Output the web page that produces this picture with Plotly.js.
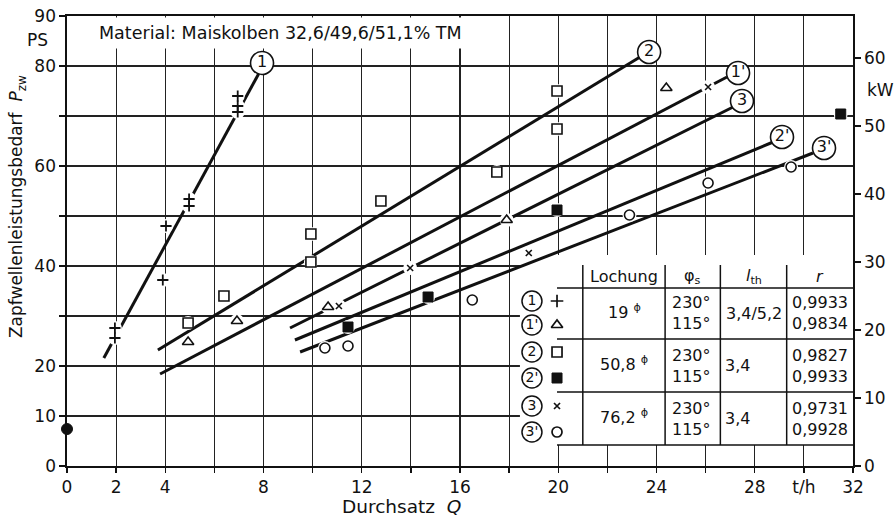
<!DOCTYPE html>
<html>
<head>
<meta charset="utf-8">
<script src="https://cdn.plot.ly/plotly-3.0.1.min.js"></script>
<style>
  html, body { margin: 0; padding: 0; background: #fff; }
  #chart { width: 895px; height: 524px; }
</style>
</head>
<body>
<div id="chart"></div>
<script>
// Measured points, Durchsatz Q [t/h] vs. Zapfwellenleistung [PS]
const plusX = [1.95, 1.95, 3.9, 4.03, 4.97, 4.97, 6.95, 6.95, 6.95];
const plusY = [25.6, 27.6, 37.2, 48.0, 52.0, 53.4, 70.8, 72.0, 74.0];
const triX = [4.93, 6.92, 10.63, 17.9, 24.4];
const triY = [24.8, 29.0, 31.8, 49.2, 75.6];
const sqX = [4.93, 6.39, 9.93, 9.93, 12.78, 17.5, 19.95, 19.95];
const sqY = [28.6, 34.0, 40.8, 46.4, 53.0, 58.8, 67.4, 75.0];
const sqFillX = [11.44, 14.7, 19.95, 31.5];
const sqFillY = [27.8, 33.8, 51.2, 70.4];
const crossX = [11.07, 13.97, 18.8, 26.1];
const crossY = [32.0, 39.6, 42.6, 75.8];
const circX = [10.5, 11.44, 16.5, 22.9, 26.1, 29.48];
const circY = [23.6, 24.0, 33.2, 50.2, 56.6, 59.8];
const idleX = [0];
const idleY = [7.4];

// Regression lines (start / end)
const line1X = [1.5, 7.82],    line1Y = [21.6, 78.6];
const line1pX = [3.79, 26.87], line1pY = [18.4, 77.8];
const line2X = [3.7, 23.33],   line2Y = [23.2, 81.8];
const line2pX = [9.28, 28.75], line2pY = [25.2, 64.8];
const line3X = [9.08, 27.12],  line3Y = [27.6, 71.8];
const line3pX = [9.49, 30.37], line3pY = [22.8, 62.6];

// Curve labels
const curveNames = ['1', '2', "1'", '3', "2'", "3'"];

// Axis ticks
const xTickVals = [0, 2, 4, 6, 8, 10, 12, 14, 16, 18, 20, 22, 24, 26, 28, 30, 32];
const xTickText = ['0', '2', '4', '', '8', '', '12', '', '16', '', '20', '', '24', '', '28', 't/h', '32'];
const yTickVals = [0, 10, 20, 30, 40, 50, 60, 70, 80, 90];
const yTickText = ['0', '10', '20', '', '40', '', '60', '', '80', '90'];
const kwTickVals = [0, 10, 20, 30, 40, 50, 60];
const PS_PER_KW = 1.36;

// Table contents
const tabHeader = ['Lochung', 'φ<sub>s</sub>', '<i>l</i><sub>th</sub>', '<i>r</i>'];
const tabLochung = ['19 <sup>ϕ</sup>', '50,8 <sup>ϕ</sup>', '76,2 <sup>ϕ</sup>'];
const tabPhi = ['230°<br>115°', '230°<br>115°', '230°<br>115°'];
const tabLth = ['3,4/5,2', '3,4', '3,4'];
const tabR = ['0,9933<br>0,9834', '0,9827<br>0,9933', '0,9731<br>0,9928'];
const tabKeys = ['1', "1'", '2', "2'", '3', "3'"];

const FONT = 'DejaVu Sans, Arial, sans-serif';
const BLACK = '#111';

// placement of curve label circles (data coords)
const labelPos = {
  '1': [7.94, 80.6], '2': [23.7, 82.8], "1'": [27.32, 78.6],
  '3': [27.48, 73.0], "2'": [29.11, 65.8], "3'": [30.82, 63.6]
};

const traces = [];
function addLine(x, y) {
  traces.push({ x: x, y: y, mode: 'lines', type: 'scatter', hoverinfo: 'skip',
    line: { color: BLACK, width: 3 }, showlegend: false, cliponaxis: false });
}
addLine(line1X, line1Y);
addLine(line1pX, line1pY);
addLine(line2X, line2Y);
addLine(line2pX, line2pY);
addLine(line3X, line3Y);
addLine(line3pX, line3pY);

// white halo behind every measured point (breaks lines and grid)
const allX = [].concat(plusX, triX, sqX, sqFillX, crossX, circX);
const allY = [].concat(plusY, triY, sqY, sqFillY, crossY, circY);
traces.push({ x: allX, y: allY, mode: 'markers', type: 'scatter', hoverinfo: 'skip',
  marker: { symbol: 'circle', size: 14, color: '#fff', line: { width: 0 } }, showlegend: false });

function addPts(x, y, symbol, size, lw) {
  traces.push({ x: x, y: y, mode: 'markers', type: 'scatter', showlegend: false, cliponaxis: false,
    marker: { symbol: symbol, size: size, color: BLACK, line: { color: BLACK, width: lw } } });
}
addPts(plusX, plusY, 'cross-thin-open', 8, 1.8);
addPts(triX, triY, 'triangle-up-open', 10, 1.6);
addPts(sqX, sqY, 'square-open', 10, 1.6);
addPts(sqFillX, sqFillY, 'square', 10, 1);
addPts(crossX, crossY, 'x-thin-open', 6, 1.6);
addPts(circX, circY, 'circle-open', 10, 1.6);
addPts(idleX, idleY, 'circle', 11, 1);

// circled curve labels
traces.push({
  x: curveNames.map(n => labelPos[n][0]), y: curveNames.map(n => labelPos[n][1]),
  text: curveNames, mode: 'markers+text', type: 'scatter', textposition: 'middle center',
  showlegend: false, cliponaxis: false, hoverinfo: 'skip',
  marker: { symbol: 'circle', size: 23, color: '#fff', line: { color: BLACK, width: 1.6 } },
  textfont: { family: FONT, size: 16, color: BLACK }
});

// dummy trace carrying the kW axis
traces.push({ x: [0], y: [0], yaxis: 'y2', mode: 'markers', marker: { opacity: 0 },
  showlegend: false, hoverinfo: 'skip' });

// ---- table ----
const tX0 = 18.44, tX1 = 32, tTop = 42.2, tBottom = 4.2;
const colX = [19.95, 21.0, 24.35, 26.6, 29.3, 32];
const rowY = [40.2, 35.6, 25.4, 14.8, 4.2];

const shapes = [];
shapes.push({ type: 'rect', xref: 'x', yref: 'y', x0: tX0, x1: tX1, y0: tBottom, y1: tTop,
  fillcolor: '#fff', line: { width: 0 }, layer: 'between' });
[rowY[1], rowY[2], rowY[3], rowY[4]].forEach(yv => {
  shapes.push({ type: 'line', xref: 'x', yref: 'y', x0: colX[0], x1: colX[5], y0: yv, y1: yv,
    line: { color: BLACK, width: 1.5 }, layer: 'between' });
});
[colX[1], colX[2], colX[3], colX[4]].forEach(xv => {
  shapes.push({ type: 'line', xref: 'x', yref: 'y', x0: xv, x1: xv, y0: rowY[0], y1: rowY[4],
    line: { color: BLACK, width: 1.5 }, layer: 'between' });
});

// table symbols and keys
const keyY = [33.0, 28.2, 22.8, 17.6, 12.0, 6.8];
traces.push({ x: keyY.map(() => 18.93), y: keyY, text: tabKeys, mode: 'markers+text',
  type: 'scatter', textposition: 'middle center', showlegend: false, hoverinfo: 'skip',
  marker: { symbol: 'circle', size: 20, color: '#fff', line: { color: BLACK, width: 1.5 } },
  textfont: { family: FONT, size: 14, color: BLACK } });
const keySym = ['cross-thin-open', 'triangle-up-open', 'square-open', 'square', 'x-thin-open', 'circle-open'];
const keySize = [9, 10, 10, 10, 6, 10];
keySym.forEach((s, i) => {
  traces.push({ x: [19.95], y: [keyY[i]], mode: 'markers', type: 'scatter', showlegend: false,
    hoverinfo: 'skip', marker: { symbol: s, size: keySize[i], color: BLACK,
      line: { color: BLACK, width: s === 'square' ? 1 : 1.7 } } });
});

const ann = [];
function txt(x, y, t, opts) {
  ann.push(Object.assign({ x: x, y: y, xref: 'x', yref: 'y', text: t, showarrow: false,
    font: { family: FONT, size: 16, color: BLACK } }, opts || {}));
}
const colMid = [22.68, 25.47, 27.95, 30.65];
tabHeader.forEach((h, i) => txt(colMid[i], 38.0, h));
const rowMid = [30.6, 20.1, 9.5];
rowMid.forEach((ym, i) => {
  txt(colMid[0], ym + 0.4, tabLochung[i]);
  txt(26.3, ym, tabPhi[i], { xanchor: 'right', align: 'right' });
  txt(i === 0 ? colMid[2] : 26.72, ym, tabLth[i], i === 0 ? {} : { xanchor: 'left' });
  txt(colMid[3], ym, tabR[i]);
});

// title, units and axis titles
function paperTxt(x, y, t, size, extra) {
  ann.push(Object.assign({ xref: 'paper', yref: 'paper', x: x, y: y, text: t, showarrow: false,
    xanchor: 'center', yanchor: 'middle', font: { family: FONT, size: size, color: BLACK } }, extra || {}));
}
paperTxt(0.271, 0.962, 'Material: Maiskolben 32,6/49,6/51,1% TM', 17.5, { bgcolor: '#fff', borderpad: 5 });
paperTxt(-0.037, 0.947, 'PS', 17);
paperTxt(1.035, 0.836, 'kW', 17);
paperTxt(-0.062, 0.576, 'Zapfwellenleistungsbedarf  <i>P</i><sub>zw</sub>', 17, { textangle: -90 });
paperTxt(0.425, -0.089, 'Durchsatz  <i>Q</i>', 18.5);

const layout = {
  width: 895, height: 524,
  margin: { l: 67, r: 42, t: 16, b: 58 },
  paper_bgcolor: '#fff', plot_bgcolor: '#fff',
  font: { family: FONT, size: 17, color: BLACK },
  showlegend: false,
  xaxis: {
    range: [0, 32], tickvals: xTickVals, ticktext: xTickText,
    showgrid: true, gridcolor: '#222', gridwidth: 1.1,
    showline: true, linecolor: BLACK, linewidth: 1.6, mirror: true,
    ticks: 'outside', ticklen: 5, tickwidth: 1.3, tickcolor: BLACK,
    zeroline: false, fixedrange: true
  },
  yaxis: {
    range: [0, 90], tickvals: yTickVals, ticktext: yTickText,
    showgrid: true, gridcolor: '#222', gridwidth: 1.1,
    showline: true, linecolor: BLACK, linewidth: 1.6,
    ticks: 'outside', ticklen: 6, tickwidth: 1.3, tickcolor: BLACK,
    zeroline: false, fixedrange: true
  },
  yaxis2: {
    overlaying: 'y', side: 'right', range: [0, 90 / PS_PER_KW],
    tickvals: kwTickVals, showgrid: false, zeroline: false,
    showline: true, linecolor: BLACK, linewidth: 1.6,
    ticks: 'outside', ticklen: 6, tickwidth: 1.3, tickcolor: BLACK, fixedrange: true
  },
  shapes: shapes,
  annotations: ann
};

Plotly.newPlot('chart', traces, layout, { staticPlot: true });
</script>
</body>
</html>
